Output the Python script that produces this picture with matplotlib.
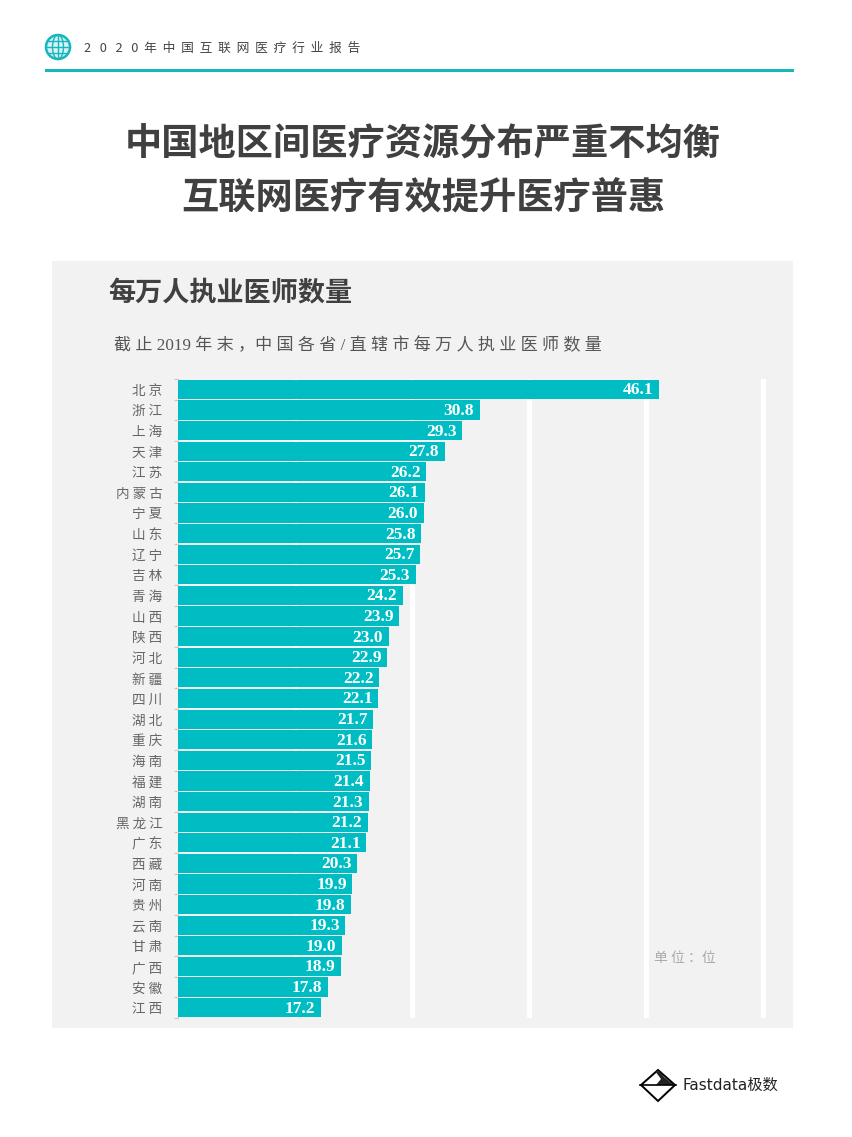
import matplotlib
matplotlib.use('Agg')
import matplotlib.pyplot as plt
from matplotlib.patches import Rectangle, Circle, Ellipse, Polygon

plt.rcParams['font.family'] = ['Noto Sans CJK SC', 'DejaVu Sans']

provinces = ['北京', '浙江', '上海', '天津', '江苏', '内蒙古', '宁夏', '山东', '辽宁', '吉林',
             '青海', '山西', '陕西', '河北', '新疆', '四川', '湖北', '重庆', '海南', '福建',
             '湖南', '黑龙江', '广东', '西藏', '河南', '贵州', '云南', '甘肃', '广西', '安徽', '江西']
doctors = [46.1, 30.8, 29.3, 27.8, 26.2, 26.1, 26.0, 25.8, 25.7, 25.3,
           24.2, 23.9, 23.0, 22.9, 22.2, 22.1, 21.7, 21.6, 21.5, 21.4,
           21.3, 21.2, 21.1, 20.3, 19.9, 19.8, 19.3, 19.0, 18.9, 17.8, 17.2]
grid_ticks = [15, 25, 35, 45, 55]

W, H = 853, 1137
TEAL = '#00bdc3'
LINE = '#17b6bd'
DARK = '#404040'

fig = plt.figure(figsize=[W / 100, H / 100], dpi=100, facecolor='white')

# page layer in pixel coordinates
bg = fig.add_axes([0, 0, 1, 1])
bg.set_xlim(0, W)
bg.set_ylim(H, 0)
bg.axis('off')

bg.add_patch(Rectangle((52, 261), 741, 767, fc='#f2f2f2', ec='none'))
bg.add_patch(Rectangle((45, 69), 749, 3, fc=LINE, ec='none'))

# globe icon
bg.add_patch(Circle((58, 47), 12, fc='#d8f3f4', ec=LINE, lw=1.8))
bg.add_patch(Ellipse((58, 47), 11, 24, fc='none', ec=LINE, lw=1))
bg.plot([58, 58], [35, 59], c=LINE, lw=1)
bg.plot([46, 70], [47, 47], c=LINE, lw=1)
bg.plot([48, 68], [41, 41], c=LINE, lw=1)
bg.plot([48, 68], [53, 53], c=LINE, lw=1)

bg.text(84, 48, '2   0   2   0  年  中  国  互  联  网  医  疗  行  业  报  告',
        fontsize=9.2, color='#444444', va='center', ha='left')

bg.text(423, 145, '中国地区间医疗资源分布严重不均衡', fontsize=26.8, fontweight='bold',
        color=DARK, ha='center', va='center')
bg.text(423, 199, '互联网医疗有效提升医疗普惠', fontsize=26.8, fontweight='bold',
        color=DARK, ha='center', va='center')

bg.text(108, 293, '每万人执业医师数量', fontsize=19.5, fontweight='bold',
        color=DARK, ha='left', va='center')
bg.text(114, 346, '截 止 2019 年 末 ，中 国 各 省 / 直 辖 市 每 万 人 执 业 医 师 数 量',
        fontsize=12.3, color='#555555', ha='left', va='center',
        family=['Liberation Serif', 'Noto Sans CJK SC'])
bg.text(654, 958, '单 位 ：位', fontsize=10, color='#aaaaaa', ha='left', va='center')

# Fastdata logo
bg.add_patch(Polygon([(658, 1070), (675, 1085), (658, 1101), (641, 1085)],
                     fc='white', ec='black', lw=1.4))
bg.plot([640, 676], [1085, 1085], c='black', lw=1.2)
bg.add_patch(Polygon([(655, 1071), (660, 1072), (664, 1077), (674, 1085), (656, 1085), (661, 1079)],
                     fc='#222222', ec='none'))
bg.text(683, 1085, 'Fastdata极数', fontsize=11, color='#222222', ha='left', va='center',
        family=['DejaVu Sans', 'Noto Sans CJK SC'])

# chart, 5 to 55 on the x axis maps to pixels 178 to 763
left, right = 178, 767
top, bottom = 379, 1018
ax = fig.add_axes([left / W, 1 - bottom / H, (right - left) / W, (bottom - top) / H])
ax.patch.set_alpha(0)

y = list(range(len(provinces)))
ax.barh(y, doctors, left=0, height=0.93, color=TEAL, zorder=3)
ax.set_xlim(5, 5 + (right - left) / 11.7)
ax.set_ylim(len(provinces) - 0.5, -0.5)

ax.set_xticks(grid_ticks)
ax.xaxis.set_ticks_position('none')
ax.set_xticklabels([])
ax.grid(axis='x', color='white', lw=3.6, zorder=1)
ax.grid(axis='y', visible=False)
ax.set_axisbelow(True)

ax.set_yticks(y)
ax.set_yticklabels([' '.join(p) for p in provinces], fontsize=9.8, color='#666666')
ax.tick_params(axis='y', which='major', length=0, pad=11)
ax.set_yticks([i - 0.5 for i in range(len(provinces) + 1)], minor=True)
ax.tick_params(axis='y', which='minor', length=3, width=0.8, color='#c8c8c8')

for s in ['top', 'right', 'bottom']:
    ax.spines[s].set_visible(False)
ax.spines['left'].set_color('#d0d0d0')
ax.spines['left'].set_linewidth(0.8)

for yi, v in zip(y, doctors):
    ax.annotate(f'{v:.1f}', (v, yi), xytext=(-4, -0.7), textcoords='offset points',
                ha='right', va='center', color='white', fontsize=12.5, fontweight='bold',
                family='Liberation Serif', zorder=4)

fig.savefig('out.png', dpi=100)
